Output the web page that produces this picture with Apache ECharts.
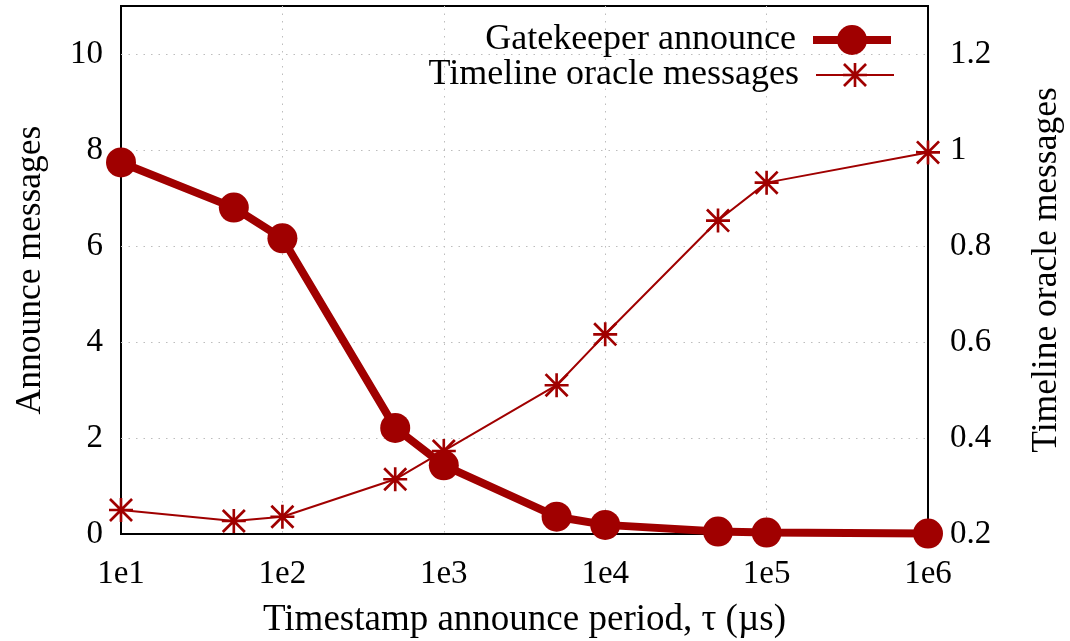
<!DOCTYPE html>
<html><head><meta charset="utf-8">
<script src="https://cdn.jsdelivr.net/npm/echarts@6/dist/echarts.min.js"></script>
<style>html,body{margin:0;padding:0;background:#fff}#c{width:1070px;height:641px}</style>
</head><body><div id="c"></div>
<script>
// ---- data ----
const periods = [10, 50, 100, 500, 1000, 5000, 10000, 50000, 100000, 1000000];
const gatekeeperAnnounce = [7.74, 6.80, 6.16, 2.21, 1.43, 0.36, 0.19, 0.05, 0.03, 0.01];
const timelineOracle = [0.250, 0.227, 0.236, 0.314, 0.373, 0.51, 0.616, 0.853, 0.932, 0.995];
const seriesNames = ['Gatekeeper announce', 'Timeline oracle messages'];
const xTitle = 'Timestamp announce period, τ (µs)';
const leftTitle = 'Announce messages';
const rightTitle = 'Timeline oracle messages';

const C = '#a00000';
const FONT = '"Liberation Serif", "DejaVu Serif", serif';
const ASTERISK = 'path://M44.5,0L55.5,0L55.5,100L44.5,100Z M0,44.5L100,44.5L100,55.5L0,55.5Z M0,8L8,0L100,92L92,100Z M92,0L100,8L8,100L0,92Z';
const gridDots = { color: '#bdbdbd', width: 1, type: [1.5, 6] };

const chart = echarts.init(document.getElementById('c'), null, { renderer: 'canvas' });
chart.setOption({
  animation: false,
  backgroundColor: '#fff',
  grid: { left: 121, right: 142, top: 6, bottom: 107, containLabel: false, outerBoundsMode: 'none',
    show: true, borderColor: '#000', borderWidth: 2, backgroundColor: 'transparent' },
  legend: [
    {
      data: [seriesNames[0]], right: 170, top: 17, align: 'right', orient: 'vertical',
      itemWidth: 78, itemHeight: 37.5, selectedMode: false,
      lineStyle: { width: 8 },
      textStyle: { fontFamily: FONT, fontSize: 36, color: '#000', padding: [0, 12, 0, 0] }
    },
    {
      data: [seriesNames[1]], right: 170, top: 52, align: 'right', orient: 'vertical',
      itemWidth: 78, itemHeight: 30, selectedMode: false,
      lineStyle: { width: 2 },
      textStyle: { fontFamily: FONT, fontSize: 36, color: '#000', padding: [0, 12, 0, 0] }
    }
  ],
  xAxis: {
    type: 'log', logBase: 10, min: 10, max: 1000000,
    axisLine: { show: false }, axisTick: { show: false },
    axisLabel: { color: '#000', fontFamily: FONT, fontSize: 33, margin: 24,
      formatter: v => '1e' + Math.round(Math.log10(v)) },
    splitLine: { show: true, lineStyle: gridDots, showMinLine: false, showMaxLine: false },
    minorTick: { show: false },
    name: xTitle, nameLocation: 'middle', nameGap: 68,
    nameTextStyle: { color: '#000', fontFamily: FONT, fontSize: 37 }
  },
  yAxis: [
    {
      type: 'value', min: 0, max: 11, interval: 2, position: 'left',
      axisLine: { show: false }, axisTick: { show: false },
      axisLabel: { color: '#000', fontFamily: FONT, fontSize: 33, margin: 18, showMaxLabel: false, padding: [4, 0, 0, 0] },
      splitLine: { show: true, lineStyle: gridDots, showMinLine: false, showMaxLine: false },
      name: leftTitle, nameLocation: 'middle', nameRotate: 90, nameGap: 72,
      nameTextStyle: { color: '#000', fontFamily: FONT, fontSize: 35.5 }
    },
    {
      type: 'value', min: 0.2, max: 1.3, interval: 0.2, position: 'right',
      axisLine: { show: false }, axisTick: { show: false },
      axisLabel: { color: '#000', fontFamily: FONT, fontSize: 33, margin: 22, showMaxLabel: false, padding: [4, 0, 0, 0],
        formatter: v => String(+v.toFixed(1)) },
      splitLine: { show: false },
      name: rightTitle, nameLocation: 'middle', nameRotate: 90, nameGap: 101,
      nameTextStyle: { color: '#000', fontFamily: FONT, fontSize: 35.5 }
    }
  ],
  series: [
    {
      name: seriesNames[1], type: 'line', yAxisIndex: 1, z: 2, clip: false,
      data: periods.map((p, i) => [p, timelineOracle[i]]),
      symbol: ASTERISK, symbolSize: 24, showAllSymbol: true,
      lineStyle: { color: C, width: 2 }, itemStyle: { color: C }
    },
    {
      name: seriesNames[0], type: 'line', yAxisIndex: 0, z: 3, clip: false,
      data: periods.map((p, i) => [p, gatekeeperAnnounce[i]]),
      symbol: 'circle', symbolSize: 30, showAllSymbol: true,
      lineStyle: { color: C, width: 8 }, itemStyle: { color: C }
    }
  ]
});
</script></body></html>
